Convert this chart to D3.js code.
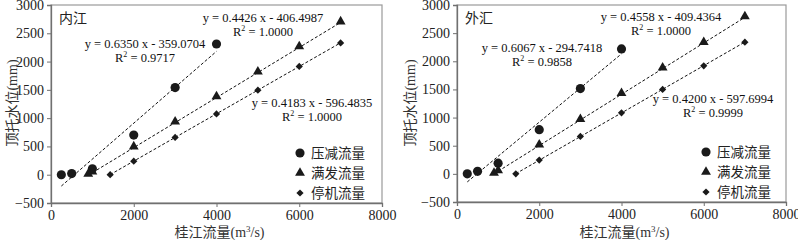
<!DOCTYPE html>
<html>
<head>
<meta charset="utf-8">
<script src="https://cdn.jsdelivr.net/npm/d3@7"></script>
<style>
  body { margin: 0; background: #fff; }
  svg text { font-family: "Liberation Serif", "Times New Roman", serif; }
</style>
</head>
<body>
<div id="chart"></div>
<script>
// series names
var seriesNames = ["压减流量", "满发流量", "停机流量"];

// 内江 panel
var neiCutX = [250, 500, 1000, 2000, 3000, 4000];
var neiCutY = [0, 20, 105, 700, 1540, 2310];
var neiFullX = [900, 1000, 2000, 3000, 4000, 5000, 6000, 7000];
var neiFullY = [-5, 35, 480, 920, 1365, 1805, 2250, 2690];
var neiStopX = [1430, 2000, 3000, 4000, 5000, 6000, 7000];
var neiStopY = [0, 240, 660, 1075, 1495, 1915, 2330];
var neiFits = [[0.6350, -359.0704, "0.9717"], [0.4426, -406.4987, "1.0000"], [0.4183, -596.4835, "1.0000"]];

// 外汇 panel
var waiCutX = [250, 500, 1000, 2000, 3000, 4000];
var waiCutY = [0, 45, 190, 785, 1515, 2220];
var waiFullX = [900, 1000, 2000, 3000, 4000, 5000, 6000, 7000];
var waiFullY = [0, 45, 500, 955, 1415, 1870, 2320, 2780];
var waiStopX = [1430, 2000, 3000, 4000, 5000, 6000, 7000];
var waiStopY = [0, 245, 665, 1085, 1500, 1920, 2340];
var waiFits = [[0.6067, -294.7418, "0.9858"], [0.4558, -409.4364, "1.0000"], [0.4200, -597.6994, "0.9999"]];

var xTicks = [0, 2000, 4000, 6000, 8000];
var yTicks = [-500, 0, 500, 1000, 1500, 2000, 2500, 3000];

var W = 798, H = 240;
var serif = "'Liberation Serif', 'Times New Roman', serif";
var svg = d3.select("#chart").append("svg").attr("width", W).attr("height", H);

// circle, triangle, diamond (square turned 45deg)
var symbols = [d3.symbolCircle, d3.symbolTriangle, d3.symbolSquare];
var symSizes = [66, 42, 26];
var symRot = [0, 0, 45];

function drawPanel(opt) {
    var x = d3.scaleLinear().domain([0, 8000]).range([opt.left, opt.right]);
    var y = d3.scaleLinear().domain([-500, 3000]).range([opt.bottom, opt.top]);
    var g = svg.append("g");

    // frame (top + right lighter)
    g.append("rect")
        .attr("x", opt.left).attr("y", opt.top)
        .attr("width", opt.right - opt.left).attr("height", opt.bottom - opt.top)
        .attr("fill", "none").attr("stroke", "#9a9a9a").attr("stroke-width", 1.2);

    var xAxis = g.append("g")
        .attr("transform", "translate(0," + opt.bottom + ")")
        .call(d3.axisBottom(x).tickValues(xTicks).tickSize(4).tickPadding(3).tickFormat(d3.format("d")));
    var yAxis = g.append("g")
        .attr("transform", "translate(" + opt.left + ",0)")
        .call(d3.axisLeft(y).tickValues(yTicks).tickSize(4).tickPadding(3).tickFormat(d3.format("d")));
    [xAxis, yAxis].forEach(function(a) {
        a.attr("font-family", null);
        a.select(".domain").attr("stroke", "#707070").attr("stroke-width", 1.3);
        a.selectAll(".tick line").attr("stroke", "#707070");
        a.selectAll("text").attr("font-size", "14px").attr("fill", "#222")
            .style("font-family", serif);
    });

    // trendlines
    opt.series.forEach(function(s, i) {
        var f = opt.fits[i];
        var x0 = d3.min(s.x), x1 = d3.max(s.x);
        g.append("line")
            .attr("x1", x(x0)).attr("y1", y(f[0] * x0 + f[1]))
            .attr("x2", x(x1)).attr("y2", y(f[0] * x1 + f[1]))
            .attr("stroke", "#111").attr("stroke-width", 1)
            .attr("stroke-dasharray", "3,2");
    });

    // points
    opt.series.forEach(function(s, i) {
        g.selectAll(null)
            .data(s.x.map(function(v, k) { return [v, s.y[k]]; }))
            .enter().append("path")
            .attr("d", d3.symbol().type(symbols[i]).size(symSizes[i]))
            .attr("transform", function(d) {
                return "translate(" + x(d[0]) + "," + (y(d[1]) - (i === 1 ? 1 : 0)) + ") rotate(" + symRot[i] + ")";
            })
            .attr("fill", "#1a1a1a");
    });

    // equation labels
    opt.fits.forEach(function(f, i) {
        var p = opt.labelPos[i];
        var t = g.append("text").attr("x", p[0]).attr("y", p[1])
            .attr("text-anchor", "middle").attr("font-size", "12.5px").attr("fill", "#111")
            .style("font-family", serif);
        t.text("y = " + f[0].toFixed(4) + " x - " + Math.abs(f[1]).toFixed(4));
        var r = g.append("text").attr("x", p[0]).attr("y", p[1] + 14)
            .attr("text-anchor", "middle").attr("font-size", "12.5px").attr("fill", "#111")
            .style("font-family", serif);
        r.append("tspan").text("R");
        r.append("tspan").attr("dy", -5).attr("font-size", "8px").text("2");
        r.append("tspan").attr("dy", 5).text(" = " + f[2]);
    });

    // panel label
    g.append("text").attr("x", opt.left + 8).attr("y", opt.top + 18)
        .attr("font-size", "14px").attr("fill", "#222")
        .style("font-family", "Noto Sans CJK SC").text(opt.name);

    // legend
    seriesNames.forEach(function(n, i) {
        var ly = opt.legendY + i * 20;
        g.append("path")
            .attr("d", d3.symbol().type(symbols[i]).size(symSizes[i]))
            .attr("transform", "translate(" + opt.legendX + "," + ly + ") rotate(" + symRot[i] + ")")
            .attr("fill", "#1a1a1a");
        g.append("text").attr("x", opt.legendX + 11).attr("y", ly + 5)
            .attr("font-size", "13.5px").attr("fill", "#222")
            .style("font-family", "Noto Sans CJK SC").text(n);
    });

    // axis titles
    var xt = g.append("text").attr("x", (opt.left + opt.right) / 2 + 3).attr("y", 237)
        .attr("text-anchor", "middle").attr("font-size", "14px").attr("fill", "#333")
        .style("font-family", serif);
    xt.append("tspan").style("font-family", "Noto Sans CJK SC").text("桂江流量");
    xt.append("tspan").text("(m");
    xt.append("tspan").attr("dy", -5).attr("font-size", "9px").text("3");
    xt.append("tspan").attr("dy", 5).text("/s)");

    var yt = g.append("text")
        .attr("transform", "translate(" + opt.ytX + "," + 103 + ") rotate(-90)")
        .attr("text-anchor", "middle").attr("font-size", "14px").attr("fill", "#333")
        .style("font-family", serif);
    yt.append("tspan").style("font-family", "Noto Sans CJK SC").text("顶托水位");
    yt.append("tspan").text("(mm)");
}

drawPanel({
    name: "内江", left: 51, right: 382, top: 5, bottom: 203,
    series: [{x: neiCutX, y: neiCutY}, {x: neiFullX, y: neiFullY}, {x: neiStopX, y: neiStopY}],
    fits: neiFits,
    labelPos: [[145, 48], [263, 22], [312, 107]],
    legendX: 300, legendY: 153, ytX: 17
});

drawPanel({
    name: "外汇", left: 457, right: 786, top: 5, bottom: 202,
    series: [{x: waiCutX, y: waiCutY}, {x: waiFullX, y: waiFullY}, {x: waiStopX, y: waiStopY}],
    fits: waiFits,
    labelPos: [[542, 52], [661, 21], [713, 103]],
    legendX: 706, legendY: 152, ytX: 415
});
</script>
</body>
</html>
